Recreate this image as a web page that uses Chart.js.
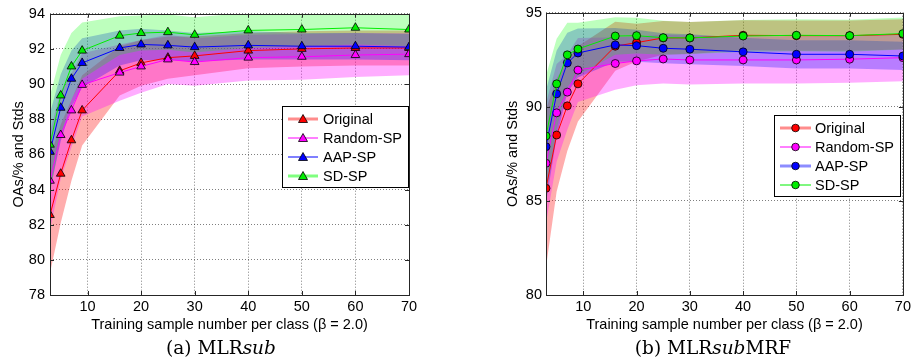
<!DOCTYPE html>
<html>
<head>
<meta charset="utf-8">
<script src="https://cdn.jsdelivr.net/npm/chart.js@4.4.1/dist/chart.umd.min.js"></script>
<style>
  body { margin: 0; background: #fff; }
  #wrap { position: relative; width: 914px; height: 362px; }
  canvas { position: absolute; top: 0; }
  .cap { position: absolute; top: 337px; font-family: "DejaVu Serif", serif; font-size: 18.5px; color: #000;
         white-space: nowrap; transform: translateX(-50%); line-height: 22px; }
</style>
</head>
<body>
<div id="wrap">
  <canvas id="chartA" width="457" height="340" style="left:0"></canvas>
  <canvas id="chartB" width="457" height="340" style="left:457px"></canvas>
  <div class="cap" style="left:221px">(a) MLR<i>sub</i></div>
  <div class="cap" style="left:713px">(b) MLR<i>sub</i>MRF</div>
</div>
<script>
// Datos
const sampleSizes = [3, 5, 7, 9, 16, 20, 25, 30, 40, 50, 60, 70];
const xTicks = [10, 20, 30, 40, 50, 60, 70];
const methods = ['Original', 'Random-SP', 'AAP-SP', 'SD-SP'];

// (a) MLRsub — medias
const mlrOriginal = [82.55, 84.9, 86.8, 88.5, 90.75, 91.2, 91.5, 91.6, 91.9, 92.0, 92.05, 92.05];
const mlrRandom   = [84.5, 87.1, 88.5, 89.95, 90.65, 91.0, 91.4, 91.25, 91.5, 91.55, 91.65, 91.7];
const mlrAap      = [86.15, 88.65, 90.3, 91.2, 92.05, 92.25, 92.2, 92.1, 92.2, 92.15, 92.15, 92.1];
const mlrSd       = [86.55, 89.35, 91.0, 91.9, 92.75, 92.9, 92.95, 92.8, 93.05, 93.1, 93.2, 93.1];
// (a) MLRsub — desviaciones
const mlrOriginalStd = [3.3, 2.8, 2.3, 2.0, 1.4, 1.3, 1.2, 1.1, 1.0, 1.0, 1.0, 1.0];
const mlrRandomStd   = [2.8, 2.5, 2.1, 1.8, 1.6, 1.5, 1.4, 1.35, 1.3, 1.3, 1.25, 1.2];
const mlrAapStd      = [2.2, 1.9, 1.6, 1.4, 1.0, 0.9, 0.85, 0.8, 0.8, 0.75, 0.75, 0.75];
const mlrSdStd       = [2.8, 2.3, 1.9, 1.6, 1.1, 1.0, 1.0, 1.0, 1.0, 0.95, 0.95, 0.95];

// (b) MLRsubMRF — medias
const mrfOriginal = [85.67, 88.5, 90.05, 91.22, 93.22, 93.41, 93.66, 93.66, 93.8, 93.78, 93.78, 93.85];
const mrfRandom   = [87.0, 89.68, 90.78, 91.95, 92.3, 92.44, 92.54, 92.49, 92.49, 92.49, 92.53, 92.61];
const mrfAap      = [87.88, 90.69, 92.33, 92.86, 93.29, 93.25, 93.11, 93.06, 92.92, 92.79, 92.79, 92.7];
const mrfSd       = [88.45, 91.22, 92.76, 93.07, 93.76, 93.78, 93.67, 93.66, 93.76, 93.8, 93.78, 93.89];
// (b) MLRsubMRF — desviaciones
const mrfOriginalStd = [4.2, 3.0, 2.4, 2.0, 1.3, 1.0, 0.9, 0.85, 0.8, 0.8, 0.8, 0.8];
const mrfRandomStd   = [3.2, 2.6, 2.0, 1.7, 1.4, 1.3, 1.3, 1.3, 1.25, 1.25, 1.25, 1.25];
const mrfAapStd      = [3.0, 2.3, 1.6, 1.3, 0.9, 0.85, 0.8, 0.8, 0.75, 0.75, 0.75, 0.75];
const mrfSdStd       = [3.2, 2.4, 1.7, 1.4, 1.0, 0.95, 0.9, 0.85, 0.85, 0.85, 0.85, 0.85];

const mlrYTicks = [78, 80, 82, 84, 86, 88, 90, 92, 94];
const mrfYTicks = [80, 85, 90, 95];

const lineColors = ['#ff0000', '#ff00ff', '#0000ff', '#00ee00'];
const bandColors = ['rgba(255,0,0,0.32)', 'rgba(255,0,255,0.32)', 'rgba(0,0,255,0.28)', 'rgba(0,255,0,0.26)'];
const FONT = '"Liberation Sans", Arial, sans-serif';

function xy(values) {
  return values.map((v, i) => ({ x: sampleSizes[i], y: v }));
}

// Marco estilo MATLAB: caja completa, marcas hacia dentro y leyenda
const matlabFrame = {
  id: 'matlabFrame',
  afterDraw(chart, args, opts) {
    const { ctx, chartArea: a, scales } = chart;
    ctx.save();
    ctx.strokeStyle = '#262626';
    ctx.lineWidth = 1;
    ctx.beginPath();
    scales.x.ticks.forEach((t) => {
      const px = Math.round(scales.x.getPixelForValue(t.value)) + 0.5;
      ctx.moveTo(px, a.bottom); ctx.lineTo(px, a.bottom - 4);
      ctx.moveTo(px, a.top); ctx.lineTo(px, a.top + 4);
    });
    scales.y.ticks.forEach((t) => {
      const py = Math.round(scales.y.getPixelForValue(t.value)) + 0.5;
      ctx.moveTo(a.left, py); ctx.lineTo(a.left + 4, py);
      ctx.moveTo(a.right, py); ctx.lineTo(a.right - 4, py);
    });
    ctx.stroke();
    ctx.strokeRect(Math.round(a.left) + 0.5, Math.round(a.top) + 0.5,
      Math.round(a.right - a.left), Math.round(a.bottom - a.top));

    // leyenda
    const L = opts.legend;
    ctx.fillStyle = '#fff';
    ctx.fillRect(L.x, L.y, L.w, L.h);
    ctx.strokeStyle = '#000';
    ctx.strokeRect(L.x + 0.5, L.y + 0.5, L.w, L.h);
    ctx.font = `14.5px ${FONT}`;
    ctx.textBaseline = 'middle';
    methods.forEach((name, i) => {
      const y = L.rows[i];
      const s = L.samples[i];
      ctx.strokeStyle = s.color;
      ctx.lineWidth = s.width;
      ctx.beginPath();
      ctx.moveTo(L.x0, y); ctx.lineTo(L.x1, y);
      ctx.stroke();
      drawMarker(ctx, opts.marker, (L.x0 + L.x1) / 2, y, lineColors[i]);
      ctx.fillStyle = '#000';
      ctx.fillText(name, L.tx, y + 1);
    });
    ctx.restore();
  },
};

function drawMarker(ctx, style, x, y, color) {
  ctx.save();
  ctx.fillStyle = color;
  ctx.strokeStyle = '#000';
  ctx.lineWidth = 0.8;
  ctx.beginPath();
  if (style === 'triangle') {
    ctx.moveTo(x, y - 4.5); ctx.lineTo(x + 4.5, y + 3.5); ctx.lineTo(x - 4.5, y + 3.5); ctx.closePath();
  } else {
    ctx.arc(x, y, 3.8, 0, Math.PI * 2);
  }
  ctx.fill();
  ctx.stroke();
  ctx.restore();
}

function buildChart(canvasId, means, stds, cfg) {
  const datasets = [];
  means.forEach((m, i) => {
    datasets.push({
      data: xy(m.map((v, j) => v + stds[i][j])),
      borderWidth: 0, pointRadius: 0, fill: false, order: 10 - i,
    });
    datasets.push({
      data: xy(m.map((v, j) => v - stds[i][j])),
      borderWidth: 0, pointRadius: 0, fill: '-1', backgroundColor: bandColors[i], order: 10 - i,
    });
  });
  means.forEach((m, i) => {
    datasets.push({
      label: methods[i],
      data: xy(m),
      borderColor: lineColors[i],
      borderWidth: 1,
      pointStyle: cfg.marker,
      pointRadius: cfg.marker === 'triangle' ? 5 : 4,
      pointBackgroundColor: lineColors[i],
      pointBorderColor: '#000',
      pointBorderWidth: 0.8,
      fill: false,
      order: 2 - i * 0.1,
    });
  });

  const tickFont = { family: FONT, size: 14.5 };
  return new Chart(document.getElementById(canvasId), {
    type: 'line',
    data: { datasets },
    options: {
      responsive: false,
      animation: false,
      events: [],
      layout: { padding: cfg.padding },
      elements: { line: { tension: 0 } },
      plugins: {
        legend: { display: false },
        tooltip: { enabled: false },
        matlabFrame: { legend: cfg.legend, marker: cfg.marker },
      },
      scales: {
        x: {
          type: 'linear', min: 3, max: 70,
          afterBuildTicks: (s) => { s.ticks = xTicks.map((v) => ({ value: v })); },
          afterFit: (s) => { s.height = 45; },
          grid: { color: 'rgba(0,0,0,0.5)', lineWidth: 1, drawTicks: false },
          border: { display: false, dash: [1, 2] },
          ticks: { color: '#000', font: tickFont, padding: 3, maxRotation: 0, autoSkip: false },
          title: {
            display: true, text: 'Training sample number per class (β = 2.0)', color: '#000',
            font: tickFont, padding: { top: 0, bottom: 6 },
          },
        },
        y: {
          type: 'linear', min: cfg.yTicks[0], max: cfg.yTicks[cfg.yTicks.length - 1],
          afterBuildTicks: (s) => { s.ticks = cfg.yTicks.map((v) => ({ value: v })); },
          afterFit: (s) => { s.width = 50; },
          grid: { color: 'rgba(0,0,0,0.5)', lineWidth: 1, drawTicks: false },
          border: { display: false, dash: [1, 2] },
          ticks: { color: '#000', font: tickFont, padding: cfg.yPad, autoSkip: false },
          title: {
            display: true, text: 'OAs/% and Stds', color: '#000',
            font: tickFont, padding: { top: cfg.titlePad, bottom: 0 },
          },
        },
      },
    },
    plugins: [matlabFrame],
  });
}

buildChart('chartA',
  [mlrOriginal, mlrRandom, mlrAap, mlrSd],
  [mlrOriginalStd, mlrRandomStd, mlrAapStd, mlrSdStd],
  {
    marker: 'triangle', yTicks: mlrYTicks, yPad: 5, titlePad: 10,
    padding: { left: 0, top: 11, right: 48, bottom: 0 },
    legend: {
      x: 282, y: 106, w: 126, h: 81, rows: [119, 138, 157, 176], x0: 288, x1: 318, tx: 323,
      samples: [
        { color: 'rgba(255,0,0,0.45)', width: 3 },
        { color: '#ff00ff', width: 1 },
        { color: '#0000ff', width: 1 },
        { color: 'rgba(0,255,0,0.5)', width: 3 },
      ],
    },
  });

buildChart('chartB',
  [mrfOriginal, mrfRandom, mrfAap, mrfSd],
  [mrfOriginalStd, mrfRandomStd, mrfAapStd, mrfSdStd],
  {
    marker: 'circle', yTicks: mrfYTicks, yPad: 4, titlePad: 8,
    padding: { left: 39, top: 11, right: 8, bottom: 0 },
    legend: {
      x: 317, y: 115, w: 126, h: 81, rows: [128, 147, 166, 185], x0: 323, x1: 354, tx: 358,
      samples: [
        { color: 'rgba(255,0,0,0.45)', width: 3 },
        { color: '#ff00ff', width: 1 },
        { color: 'rgba(0,0,255,0.45)', width: 3 },
        { color: '#00ee00', width: 1 },
      ],
    },
  });
</script>
</body>
</html>
